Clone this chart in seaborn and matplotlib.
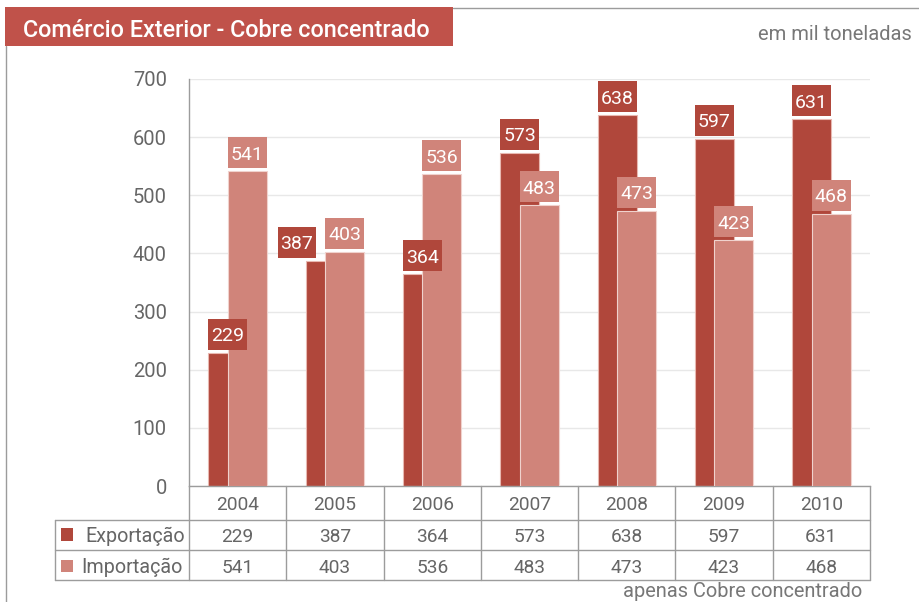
import numpy as np
import pandas as pd
import matplotlib
matplotlib.use("Agg")
import matplotlib.pyplot as plt
import matplotlib.transforms as mtransforms
from matplotlib.patches import Rectangle
from matplotlib.lines import Line2D
import seaborn as sns

# ---------------- data ----------------
years = ["2004", "2005", "2006", "2007", "2008", "2009", "2010"]
exportacao = [229, 387, 364, 573, 638, 597, 631]
importacao = [541, 403, 536, 483, 473, 423, 468]
series_names = ["Exportação", "Importação"]
y_ticks = [0, 100, 200, 300, 400, 500, 600, 700]
title = "Comércio Exterior - Cobre concentrado"
unit_note = "em mil toneladas"
footnote = "apenas Cobre concentrado"

# ---------------- style ----------------
DARK = "#B0473B"
LIGHT = "#D0847A"
TITLE_BG = "#C0524A"
TXT = "#666666"
LINE = "#9c9c9c"
GRID = "#e8e8e8"

sns.set_theme(style="white")
plt.rcParams["font.family"] = ["Roboto", "DejaVu Sans"]

W, H = 920, 602
fig = plt.figure(figsize=(W / 100, H / 100), dpi=100)


def fx(px):
    return px / W


def fy(py):
    return 1 - py / H


ax_left, ax_right, ax_top, ax_bottom = 189, 870, 79, 486
ax = fig.add_axes([fx(ax_left), fy(ax_bottom), fx(ax_right) - fx(ax_left), fy(ax_top) - fy(ax_bottom)])

df = pd.DataFrame({"pos": np.arange(len(years)), "exp": exportacao, "imp": importacao})
OFF, BW = 0.1, 0.4

sns.barplot(x=df["pos"] - OFF, y=df["exp"], native_scale=True, width=BW, orient="x",
            color=DARK, saturation=1, edgecolor="#e8b8b1", linewidth=0.8,
            errorbar=None, ax=ax, zorder=2)
dark_patches = list(ax.patches)
sns.barplot(x=df["pos"] + OFF, y=df["imp"], native_scale=True, width=BW, orient="x",
            color=LIGHT, saturation=1, edgecolor="#f0d2cd", linewidth=0.8,
            errorbar=None, ax=ax, zorder=3)
light_patches = [p for p in ax.patches if p not in dark_patches]

ax.set_xlim(-0.5, len(years) - 0.5)
ax.set_ylim(0, 700)
ax.set_yticks(y_ticks)
ax.set_yticklabels([str(v) for v in y_ticks], fontsize=14.5, color=TXT)
ax.set_xticks([])
ax.set_xlabel("")
ax.set_ylabel("")
ax.tick_params(axis="y", length=0, pad=16)
ax.yaxis.grid(True, color=GRID, lw=1)
ax.set_axisbelow(True)
for s in ["top", "right"]:
    ax.spines[s].set_visible(False)
for s in ["left", "bottom"]:
    ax.spines[s].set_color(LINE)
    ax.spines[s].set_linewidth(1)

# value label boxes
ppu = (ax_bottom - ax_top) / 700.0
gap, bh = 3 / ppu, 31 / ppu
dark_shift = {1: -0.29}


def add_labels(patches, color, shifts, z):
    for i, p in enumerate(patches):
        x0 = p.get_x() + shifts.get(i, 0)
        w = p.get_width()
        h = p.get_height()
        y0 = h + gap
        ax.add_patch(Rectangle((x0, y0), w, bh, facecolor=color, edgecolor="none",
                               zorder=z, clip_on=False))
        ax.text(x0 + w / 2, y0 + 8.5 / ppu, f"{int(round(h))}", ha="center", va="baseline",
                color="white", fontsize=14, zorder=z + 0.5, clip_on=False)


add_labels(dark_patches, DARK, dark_shift, 5)
add_labels(light_patches, LIGHT, {}, 6)

# ---------------- data table ----------------
trans = mtransforms.blended_transform_factory(ax.transData, fig.transFigure)
n = len(years)
for k in range(n + 1):
    xv = k - 0.5
    fig.add_artist(Line2D([xv, xv], [fy(486), fy(580)], transform=trans, color=LINE, lw=1))
for yy in [520, 550, 580]:
    fig.add_artist(Line2D([fx(55), fx(870)], [fy(yy), fy(yy)], transform=fig.transFigure,
                          color=LINE, lw=1))
fig.add_artist(Line2D([fx(55), fx(55)], [fy(520), fy(580)], transform=fig.transFigure,
                      color=LINE, lw=1))

for k, yr in enumerate(years):
    fig.text(k, fy(510), yr, transform=trans, ha="center", va="baseline", fontsize=13.8, color=TXT)
    fig.text(k, fy(542), str(exportacao[k]), transform=trans, ha="center", va="baseline",
             fontsize=13.8, color=TXT)
    fig.text(k, fy(573), str(importacao[k]), transform=trans, ha="center", va="baseline",
             fontsize=13.8, color=TXT)

fig.add_artist(Rectangle((fx(61), fy(541)), fx(12), 13 / H, transform=fig.transFigure,
                         facecolor=DARK, edgecolor="none"))
fig.add_artist(Rectangle((fx(61), fy(572)), fx(12), 12 / H, transform=fig.transFigure,
                         facecolor=LIGHT, edgecolor="none"))
fig.text(fx(185), fy(542), series_names[0], ha="right", va="baseline", fontsize=14.2, color=TXT)
fig.text(fx(183), fy(573), series_names[1], ha="right", va="baseline", fontsize=14.2, color=TXT)

# ---------------- title / frame ----------------
fig.add_artist(Rectangle((fx(5), fy(46)), fx(448), 39 / H, transform=fig.transFigure,
                         facecolor=TITLE_BG, edgecolor="none"))
fig.text(fx(23), fy(37), title, ha="left", va="baseline", fontsize=16.8, fontweight="medium",
         color="white")
fig.add_artist(Line2D([fx(453), 1], [fy(7.5), fy(7.5)], transform=fig.transFigure, color=LINE, lw=1))
fig.add_artist(Line2D([fx(6), fx(6)], [fy(46), 0], transform=fig.transFigure, color=LINE, lw=1))

fig.text(fx(912), fy(40), unit_note, ha="right", va="baseline", fontsize=14.5, color="#777777")
fig.text(fx(862), fy(597), footnote, ha="right", va="baseline", fontsize=14.4, color="#777777")

fig.savefig("out.png", dpi=100)
